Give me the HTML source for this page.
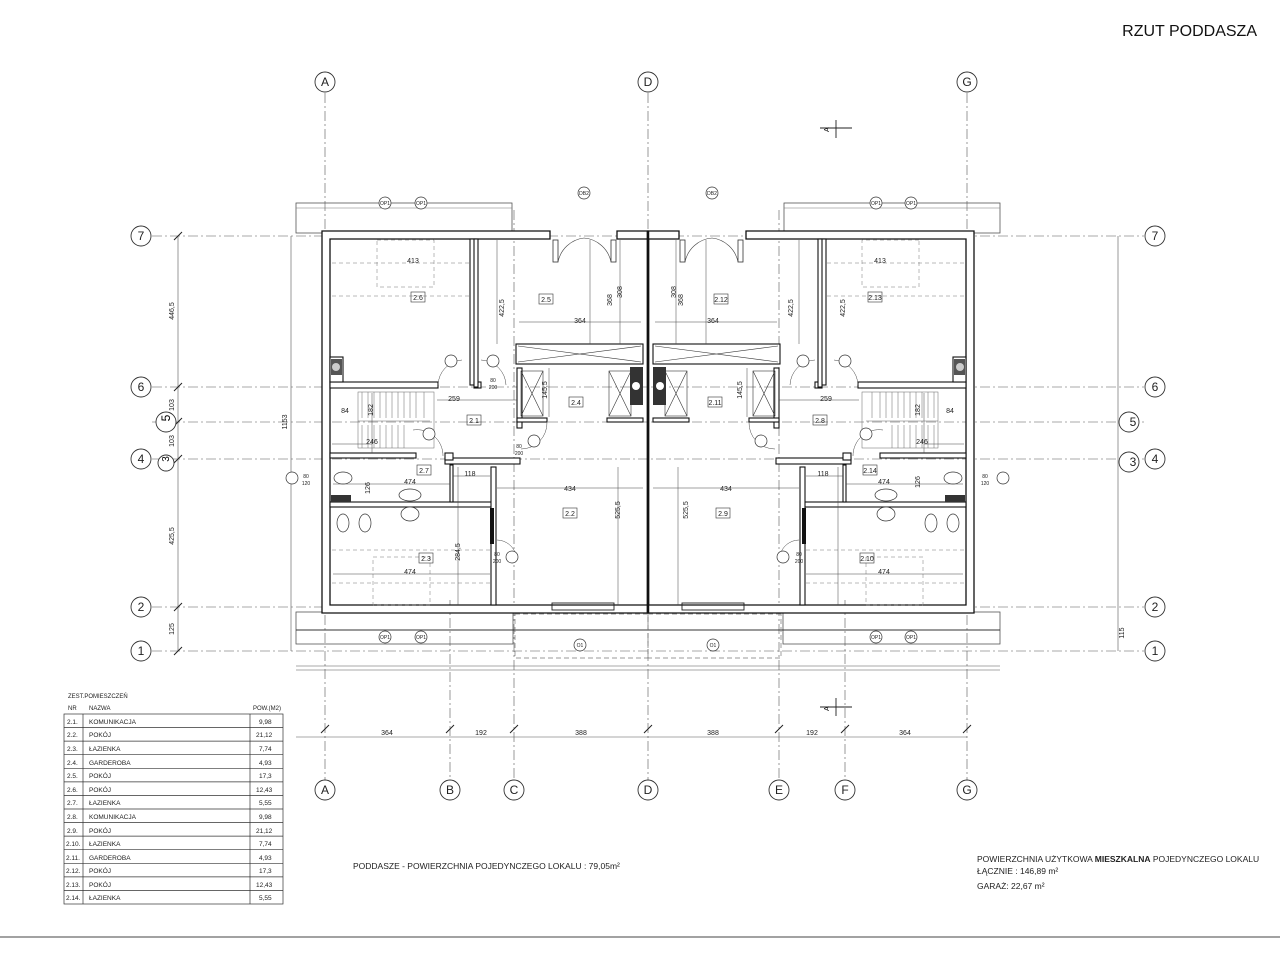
<!DOCTYPE html>
<html><head><meta charset="utf-8">
<style>
html,body{margin:0;padding:0;background:#fff;}
svg{display:block;font-family:"Liberation Sans",sans-serif;}
</style></head>
<body>
<svg width="1280" height="959" viewBox="0 0 1280 959" xmlns="http://www.w3.org/2000/svg">
<defs>
<g id="unit">
  <!-- balcony ledge top -->
  <rect x="296" y="203" width="216" height="30" fill="none" stroke="#555" stroke-width="0.8"/>
  <line x1="296" y1="208" x2="512" y2="208" stroke="#777" stroke-width="0.6"/>
  <!-- bottom terrace -->
  <rect x="296" y="612" width="217" height="32" fill="none" stroke="#555" stroke-width="0.8"/>
  <line x1="296" y1="630" x2="648" y2="630" stroke="#333" stroke-width="0.9"/>
  <rect x="515" y="614" width="133" height="44" fill="none" stroke="#777" stroke-width="0.7" stroke-dasharray="5,3"/>
  <!-- outer walls -->
  <path d="M322 231 H550 V239 H330 V605 H648 V613 H322 Z" fill="#fff" stroke="#111" stroke-width="1.3"/>
  <path d="M617 231 H648 V239 H617 Z" fill="#fff" stroke="#111" stroke-width="1.3"/>
  <line x1="648" y1="231" x2="648" y2="613" stroke="#111" stroke-width="2.5"/>
  <!-- balcony door -->
  <rect x="553" y="240" width="5" height="22" fill="none" stroke="#333" stroke-width="0.8"/>
  <rect x="611" y="240" width="5" height="22" fill="none" stroke="#333" stroke-width="0.8"/>
  <path d="M558 262 A30 30 0 0 1 584 238 M611 262 A30 30 0 0 0 584 238" fill="none" stroke="#444" stroke-width="0.6"/>
  <!-- bottom window -->
  <rect x="552" y="603" width="62" height="7" fill="none" stroke="#222" stroke-width="0.9"/>
  <!-- interior walls -->
  <g fill="#fff" stroke="#111" stroke-width="1.1">
    <rect x="470" y="239" width="5" height="146"/>
    <rect x="330" y="382" width="108" height="6"/>
    <rect x="330" y="357" width="13" height="25"/>
    <rect x="474" y="382" width="7" height="6"/>
    <rect x="474" y="239" width="4" height="148"/>
    <rect x="516" y="344" width="127" height="20"/>
    <rect x="517" y="368" width="5" height="60"/>
    <rect x="517" y="418" width="30" height="4"/>
    <rect x="607" y="418" width="36" height="4"/>
    <rect x="330" y="453" width="86" height="5"/>
    <rect x="445" y="458" width="75" height="6"/>
    <rect x="445" y="453" width="8" height="7"/>
    <rect x="330" y="502" width="162" height="5"/>
    <rect x="491" y="467" width="5" height="138"/>
    <rect x="450" y="465" width="3" height="37"/>
    <rect x="330" y="409" width="0" height="0"/>
  </g>
  <rect x="490" y="508" width="4" height="36" fill="#111"/>
  <!-- hatched blocks -->
  <g stroke="#333" stroke-width="0.6" fill="none">
    <path d="M518 346 L641 362 M518 362 L641 346"/>
    <rect x="521" y="371" width="22" height="45"/>
    <path d="M521 371 L543 416 M543 371 L521 416"/>
    <rect x="609" y="371" width="22" height="45"/>
    <path d="M609 371 L631 416 M631 371 L609 416"/>
  </g>
  <rect x="630" y="367" width="13" height="38" fill="#333"/>
  <circle cx="636" cy="386" r="4" fill="#fff"/>
  <rect x="331" y="359" width="11" height="16" fill="#555"/>
  <circle cx="336" cy="367" r="4" fill="#ccc"/>
  <rect x="331" y="495" width="20" height="7" fill="#333"/>
  <!-- stairs -->
  <g stroke="#666" stroke-width="0.5" fill="none">
    <rect x="358" y="392" width="76" height="56"/>
    <path d="M362 392V418 M368 392V418 M374 392V418 M380 392V418 M386 392V418 M392 392V418 M398 392V418 M404 392V418 M410 392V418 M416 392V418 M424 392V418"/>
    <path d="M362 425V448 M368 425V448 M374 425V448 M380 425V448 M386 425V448 M392 425V448 M398 425V448 M404 425V448"/>
    <line x1="358" y1="421" x2="430" y2="421"/>
  </g>
  <!-- fixtures -->
  <g stroke="#333" stroke-width="0.7" fill="#fff">
    <ellipse cx="343" cy="478" rx="9" ry="6"/>
    <ellipse cx="410" cy="495" rx="11" ry="6"/>
    <ellipse cx="410" cy="514" rx="9" ry="7"/>
    <ellipse cx="343" cy="523" rx="6" ry="9"/>
    <ellipse cx="365" cy="523" rx="6" ry="9"/>
  </g>
  <!-- dashed roof lines -->
  <g stroke="#777" stroke-width="0.5" stroke-dasharray="4,3" fill="none">
    <line x1="332" y1="263" x2="470" y2="263"/>
    <line x1="332" y1="296" x2="470" y2="296"/>
    <line x1="332" y1="550" x2="490" y2="550"/>
    <line x1="332" y1="583" x2="490" y2="583"/>
    <rect x="377" y="240" width="57" height="47"/>
    <rect x="373" y="557" width="57" height="48"/>
  </g>
  <!-- door swings -->
  <g stroke="#444" stroke-width="0.5" fill="none">
    <path d="M438 385 A26 26 0 0 1 462 360"/>
    <path d="M481 360 A26 26 0 0 1 506 385"/>
    <path d="M413 430 A26 26 0 0 1 443 456"/>
    <path d="M547 422 A26 26 0 0 1 521 449"/>
    <path d="M497 540 A20 20 0 0 1 516 555"/>
  </g>
  <!-- dimension lines -->
  <g stroke="#444" stroke-width="0.5">
    <line x1="497" y1="240" x2="497" y2="344"/>
    <line x1="620" y1="240" x2="620" y2="344"/>
    <line x1="590" y1="240" x2="590" y2="344"/>
    <line x1="519" y1="322" x2="641" y2="322"/>
    <line x1="549" y1="368" x2="549" y2="417"/>
    <line x1="497" y1="488" x2="643" y2="488"/>
    <line x1="618" y1="467" x2="618" y2="605"/>
    <line x1="458" y1="467" x2="458" y2="605"/>
    <line x1="333" y1="484" x2="450" y2="484"/>
    <line x1="333" y1="574" x2="490" y2="574"/>
    <line x1="372" y1="393" x2="372" y2="453"/>
    <line x1="453" y1="476" x2="490" y2="476"/>
    <line x1="437" y1="400" x2="517" y2="400"/>
    <line x1="332" y1="444" x2="372" y2="444"/>
  </g>
</g>
</defs>

<text x="1257" y="36" font-size="16" text-anchor="end" fill="#111">RZUT PODDASZA</text>

<!-- grid lines -->
<g stroke="#555" stroke-width="0.6" stroke-dasharray="10,3,2,3">
  <line x1="325" y1="93" x2="325" y2="780"/>
  <line x1="648" y1="93" x2="648" y2="780"/>
  <line x1="967" y1="93" x2="967" y2="780"/>
  <line x1="450" y1="600" x2="450" y2="780"/>
  <line x1="514" y1="210" x2="514" y2="780"/>
  <line x1="779" y1="210" x2="779" y2="780"/>
  <line x1="845" y1="600" x2="845" y2="780"/>
  <line x1="152" y1="236" x2="1144" y2="236"/>
  <line x1="152" y1="387" x2="1144" y2="387"/>
  <line x1="152" y1="422" x2="1144" y2="422"/>
  <line x1="152" y1="459" x2="1144" y2="459"/>
  <line x1="152" y1="607" x2="1144" y2="607"/>
  <line x1="152" y1="651" x2="1144" y2="651"/>
</g>
<g stroke="#555" stroke-width="0.6">
  <line x1="296" y1="666" x2="1000" y2="666"/>
  <line x1="296" y1="670" x2="1000" y2="670"/>
  <line x1="296" y1="737" x2="967" y2="737"/>
  <line x1="178" y1="236" x2="178" y2="651"/>
  <line x1="291" y1="236" x2="291" y2="651"/>
  <line x1="1118" y1="236" x2="1118" y2="651"/>
</g>
<g stroke="#222" stroke-width="1">
  <path d="M321 733l8-8M446 733l8-8M510 733l8-8M644 733l8-8M775 733l8-8M841 733l8-8M963 733l8-8"/>
  <path d="M174 240l8-8M174 391l8-8M174 426l8-8M174 463l8-8M174 611l8-8M174 655l8-8"/>
</g>

<use href="#unit"/>
<use href="#unit" transform="translate(1296,0) scale(-1,1)"/>

<!-- section markers -->
<g stroke="#222" stroke-width="0.9" fill="none">
  <path d="M820 128H852 M836 120V138"/>
  <path d="M820 707H852 M836 698V716"/>
</g>
<text x="829" y="132" font-size="7" transform="rotate(-90 829 132)">A</text>
<text x="829" y="711" font-size="7" transform="rotate(-90 829 711)">A</text>

<!-- axis bubbles -->
<g fill="#fff" stroke="#333" stroke-width="0.9">
  <circle cx="325" cy="82" r="10"/><circle cx="648" cy="82" r="10"/><circle cx="967" cy="82" r="10"/>
  <circle cx="325" cy="790" r="10"/><circle cx="450" cy="790" r="10"/><circle cx="514" cy="790" r="10"/><circle cx="648" cy="790" r="10"/><circle cx="779" cy="790" r="10"/><circle cx="845" cy="790" r="10"/><circle cx="967" cy="790" r="10"/>
  <circle cx="141" cy="236" r="10"/><circle cx="141" cy="387" r="10"/><circle cx="166" cy="422" r="10"/><circle cx="141" cy="459" r="10"/><circle cx="166" cy="463" r="8"/><circle cx="141" cy="607" r="10"/><circle cx="141" cy="651" r="10"/>
  <circle cx="1155" cy="236" r="10"/><circle cx="1155" cy="387" r="10"/><circle cx="1129" cy="422" r="10"/><circle cx="1155" cy="459" r="10"/><circle cx="1129" cy="462" r="10"/><circle cx="1155" cy="607" r="10"/><circle cx="1155" cy="651" r="10"/>
</g>
<g font-size="12" text-anchor="middle" fill="#222">
  <text x="325" y="86">A</text><text x="648" y="86">D</text><text x="967" y="86">G</text>
  <text x="325" y="794">A</text><text x="450" y="794">B</text><text x="514" y="794">C</text><text x="648" y="794">D</text><text x="779" y="794">E</text><text x="845" y="794">F</text><text x="967" y="794">G</text>
  <text x="141" y="240">7</text><text x="141" y="391">6</text><text x="141" y="463">4</text><text x="141" y="611">2</text><text x="141" y="655">1</text>
  <text x="1155" y="240">7</text><text x="1155" y="391">6</text><text x="1155" y="463">4</text><text x="1155" y="611">2</text><text x="1155" y="655">1</text>
  <text x="1133" y="466">3</text><text x="1133" y="426">5</text>
</g>
<text x="170" y="426" font-size="12" transform="rotate(-90 166 422)" text-anchor="middle">5</text>
<text x="170" y="466" font-size="10" transform="rotate(-90 166 463)" text-anchor="middle">3</text>

<!-- dims -->
<g font-size="7" fill="#222" text-anchor="middle">
  <text x="387" y="735">364</text><text x="481" y="735">192</text><text x="581" y="735">388</text>
  <text x="713" y="735">388</text><text x="812" y="735">192</text><text x="905" y="735">364</text>
  <text x="174" y="311" transform="rotate(-90 174 311)">446,5</text>
  <text x="174" y="405" transform="rotate(-90 174 405)">103</text>
  <text x="174" y="441" transform="rotate(-90 174 441)">103</text>
  <text x="174" y="536" transform="rotate(-90 174 536)">425,5</text>
  <text x="174" y="629" transform="rotate(-90 174 629)">125</text>
  <text x="287" y="422" transform="rotate(-90 287 422)">1153</text>
  <text x="1124" y="633" transform="rotate(-90 1124 633)">115</text>
  <text x="580" y="323">364</text><text x="713" y="323">364</text>
  <text x="454" y="401">259</text><text x="826" y="401">259</text>
  <text x="570" y="491">434</text><text x="726" y="491">434</text>
  <text x="410" y="484">474</text><text x="884" y="484">474</text>
  <text x="410" y="574">474</text><text x="884" y="574">474</text>
  <text x="470" y="476">118</text><text x="823" y="476">118</text>
  <text x="345" y="413">84</text><text x="950" y="413">84</text>
  <text x="372" y="444">246</text><text x="922" y="444">246</text>
  <text x="413" y="263">413</text><text x="880" y="263">413</text>
  <text x="612" y="300" transform="rotate(-90 612 300)">368</text>
  <text x="683" y="300" transform="rotate(-90 683 300)">368</text>
  <text x="622" y="292" transform="rotate(-90 622 292)">308</text>
  <text x="676" y="292" transform="rotate(-90 676 292)">308</text>
  <text x="504" y="308" transform="rotate(-90 504 308)">422,5</text>
  <text x="793" y="308" transform="rotate(-90 793 308)">422,5</text>
  <text x="845" y="308" transform="rotate(-90 845 308)">422,5</text>
  <text x="547" y="390" transform="rotate(-90 547 390)">145,5</text>
  <text x="742" y="390" transform="rotate(-90 742 390)">145,5</text>
  <text x="620" y="510" transform="rotate(-90 620 510)">525,5</text>
  <text x="688" y="510" transform="rotate(-90 688 510)">525,5</text>
  <text x="460" y="552" transform="rotate(-90 460 552)">284,5</text>
  <text x="373" y="410" transform="rotate(-90 373 410)">182</text>
  <text x="920" y="410" transform="rotate(-90 920 410)">182</text>
  <text x="370" y="488" transform="rotate(-90 370 488)">126</text>
  <text x="920" y="482" transform="rotate(-90 920 482)">126</text>
</g>
<!-- room tags -->
<g font-size="7" fill="#222" text-anchor="middle" stroke-width="0.6">
  <g fill="none" stroke="#333">
    <rect x="411" y="292" width="14" height="10"/><rect x="539" y="294" width="14" height="10"/>
    <rect x="467" y="415" width="14" height="10"/><rect x="569" y="397" width="14" height="10"/>
    <rect x="417" y="465" width="14" height="10"/><rect x="563" y="508" width="14" height="10"/>
    <rect x="419" y="553" width="14" height="10"/>
    <rect x="868" y="292" width="14" height="10"/><rect x="714" y="294" width="14" height="10"/>
    <rect x="813" y="415" width="14" height="10"/><rect x="708" y="397" width="14" height="10"/>
    <rect x="863" y="465" width="14" height="10"/><rect x="716" y="508" width="14" height="10"/>
    <rect x="860" y="553" width="14" height="10"/>
  </g>
  <text x="418" y="300">2.6</text><text x="546" y="302">2.5</text><text x="474" y="423">2.1</text>
  <text x="576" y="405">2.4</text><text x="424" y="473">2.7</text><text x="570" y="516">2.2</text>
  <text x="426" y="561">2.3</text>
  <text x="875" y="300">2.13</text><text x="721" y="302">2.12</text><text x="820" y="423">2.8</text>
  <text x="715" y="405">2.11</text><text x="870" y="473">2.14</text><text x="723" y="516">2.9</text>
  <text x="867" y="561">2.10</text>
</g>
<!-- door/window symbols -->
<g fill="#fff" stroke="#333" stroke-width="0.7">
  <circle cx="385" cy="203" r="6"/><circle cx="421" cy="203" r="6"/><circle cx="584" cy="193" r="6"/>
  <circle cx="712" cy="193" r="6"/><circle cx="876" cy="203" r="6"/><circle cx="911" cy="203" r="6"/>
  <circle cx="385" cy="637" r="6"/><circle cx="421" cy="637" r="6"/><circle cx="580" cy="645" r="6"/>
  <circle cx="713" cy="645" r="6"/><circle cx="876" cy="637" r="6"/><circle cx="911" cy="637" r="6"/>
  <circle cx="451" cy="361" r="6"/><circle cx="493" cy="361" r="6"/><circle cx="803" cy="361" r="6"/><circle cx="845" cy="361" r="6"/>
  <circle cx="429" cy="434" r="6"/><circle cx="866" cy="434" r="6"/><circle cx="534" cy="441" r="6"/><circle cx="761" cy="441" r="6"/>
  <circle cx="512" cy="557" r="6"/><circle cx="783" cy="557" r="6"/><circle cx="292" cy="478" r="6"/><circle cx="1003" cy="478" r="6"/>
</g>
<g font-size="5" fill="#222" text-anchor="middle">
  <text x="385" y="205">OP1</text><text x="421" y="205">OP1</text><text x="584" y="195">DB2</text>
  <text x="712" y="195">DB2</text><text x="876" y="205">OP1</text><text x="911" y="205">OP1</text>
  <text x="385" y="639">OP1</text><text x="421" y="639">OP1</text><text x="580" y="647">O1</text>
  <text x="713" y="647">O1</text><text x="876" y="639">OP1</text><text x="911" y="639">OP1</text>
  <text x="493" y="382">80</text><text x="493" y="389">200</text>
  <text x="519" y="448">80</text><text x="519" y="455">200</text>
  <text x="497" y="556">80</text><text x="497" y="563">200</text>
  <text x="799" y="556">80</text><text x="799" y="563">200</text>
  <text x="306" y="478">80</text><text x="306" y="485">120</text>
  <text x="985" y="478">80</text><text x="985" y="485">120</text>
</g>

<!-- table -->
<g font-size="6" fill="#222">
  <text x="68" y="698">ZEST.POMIESZCZEŃ</text>
  <text x="68" y="710">NR</text><text x="89" y="710">NAZWA</text><text x="253" y="710">POW.(M2)</text>
</g>
<g stroke="#333" stroke-width="0.7" fill="none">
  <rect x="64" y="714" width="219" height="190"/>
  <line x1="83" y1="714" x2="83" y2="904"/><line x1="250" y1="714" x2="250" y2="904"/>
  <path d="M64 727.6H283M64 741.1H283M64 754.7H283M64 768.3H283M64 781.9H283M64 795.4H283M64 809H283M64 822.6H283M64 836.1H283M64 849.7H283M64 863.3H283M64 876.9H283M64 890.4H283"/>
</g>
<g font-size="6.5" fill="#222">
  <text x="67" y="724">2.1.</text><text x="89" y="724">KOMUNIKACJA</text><text x="259" y="724">9,98</text>
  <text x="67" y="737">2.2.</text><text x="89" y="737">POKÓJ</text><text x="256" y="737">21,12</text>
  <text x="67" y="751">2.3.</text><text x="89" y="751">ŁAZIENKA</text><text x="259" y="751">7,74</text>
  <text x="67" y="765">2.4.</text><text x="89" y="765">GARDEROBA</text><text x="259" y="765">4,93</text>
  <text x="67" y="778">2.5.</text><text x="89" y="778">POKÓJ</text><text x="259" y="778">17,3</text>
  <text x="67" y="792">2.6.</text><text x="89" y="792">POKÓJ</text><text x="256" y="792">12,43</text>
  <text x="67" y="805">2.7.</text><text x="89" y="805">ŁAZIENKA</text><text x="259" y="805">5,55</text>
  <text x="67" y="819">2.8.</text><text x="89" y="819">KOMUNIKACJA</text><text x="259" y="819">9,98</text>
  <text x="67" y="833">2.9.</text><text x="89" y="833">POKÓJ</text><text x="256" y="833">21,12</text>
  <text x="66" y="846">2.10.</text><text x="89" y="846">ŁAZIENKA</text><text x="259" y="846">7,74</text>
  <text x="66" y="860">2.11.</text><text x="89" y="860">GARDEROBA</text><text x="259" y="860">4,93</text>
  <text x="66" y="873">2.12.</text><text x="89" y="873">POKÓJ</text><text x="259" y="873">17,3</text>
  <text x="66" y="887">2.13.</text><text x="89" y="887">POKÓJ</text><text x="256" y="887">12,43</text>
  <text x="66" y="900">2.14.</text><text x="89" y="900">ŁAZIENKA</text><text x="259" y="900">5,55</text>
</g>

<text x="353" y="869" font-size="8.5" fill="#222">PODDASZE - POWIERZCHNIA POJEDYNCZEGO LOKALU : 79,05m²</text>
<text x="977" y="862" font-size="8.5" fill="#222">POWIERZCHNIA UŻYTKOWA <tspan font-weight="bold">MIESZKALNA</tspan> POJEDYNCZEGO LOKALU</text>
<text x="977" y="874" font-size="8.5" fill="#222">ŁĄCZNIE : 146,89 m²</text>
<text x="977" y="889" font-size="8.5" fill="#222">GARAŻ: 22,67 m²</text>

<line x1="0" y1="937" x2="1280" y2="937" stroke="#444" stroke-width="1"/>
</svg>
</body></html>
